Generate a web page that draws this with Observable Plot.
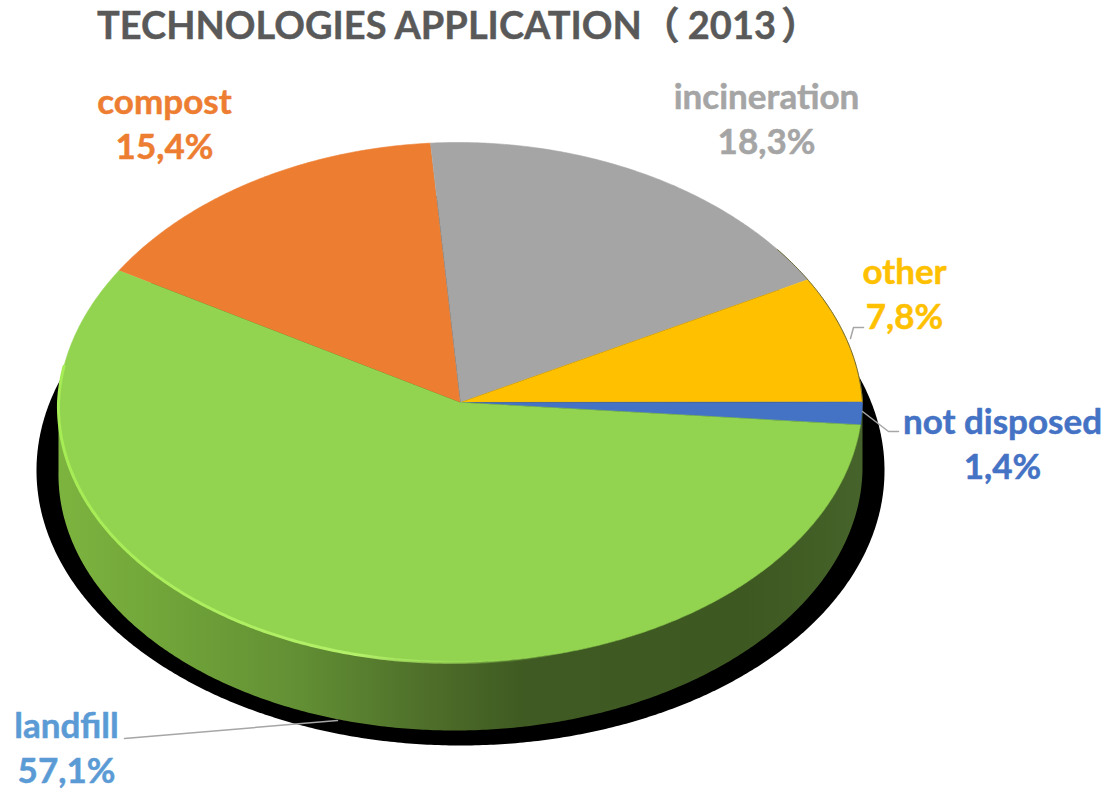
<!DOCTYPE html>
<html><head><meta charset="utf-8">
<script src="https://cdn.jsdelivr.net/npm/d3@7"></script>
<script src="https://cdn.jsdelivr.net/npm/@observablehq/plot@0.6"></script>
<style>
html,body{margin:0;padding:0;background:#fff}
#title{height:58px;box-sizing:border-box;padding:1px 0 0 97px;font:bold 38px Lato,"Noto Sans CJK SC",sans-serif;color:#595959;white-space:nowrap;line-height:46px;-webkit-text-stroke:.4px #595959}
#title .y{margin:0 5px 0 8px}
svg{display:block}
</style></head><body>
<div id="title" lang="zh-CN">TECHNOLOGIES APPLICATION（<span class="y">2013</span>）</div>
<div id="chart"></div>
<script>
// Data, clockwise from the top-left edge of the pie
const names = ["compost", "incineration", "other", "not disposed", "landfill"];
const values = [15.4, 18.3, 7.8, 1.4, 57.1];
const colors = ["#ED7D31", "#A5A5A5", "#FFC000", "#4472C4", "#92D450"];
const labelColors = ["#ED7D31", "#A5A5A5", "#FFC000", "#4472C4", "#5B9BD5"];

// Layout of the tilted pie (in picture units)
const cx = 460, cy = 402, rx = 402, ry = 260, depth = 68;
const startDeg = 149.5;              // math angle where compost begins, sweeping clockwise
const labelX = [164, 766, 904, 1002, 66];
const labelY = [81, 76, 251, 401, 705];
const leaders = [
  {id: "other", x: 850, y: 338}, {id: "other", x: 853, y: 327}, {id: "other", x: 863, y: 327},
  {id: "nd", x: 862, y: 411}, {id: "nd", x: 888, y: 431}, {id: "nd", x: 898, y: 431},
  {id: "lf", x: 337, y: 720}, {id: "lf", x: 124, y: 738}
];

const pt = (deg, dy = 0) => {
  const a = deg * Math.PI / 180, s = Math.sin(a);
  const squeeze = 1 - 0.035 * Math.max(0, s);    // slight perspective at the back of the pie
  const shift = -6 * Math.max(0, -s) - 2.5 * Math.max(0, s);   // and a slight drift
  return {x: cx + shift + rx * squeeze * Math.cos(a), y: cy + dy - ry * s};
};
const arc = (from, to) => {
  const n = Math.max(2, Math.ceil(Math.abs(to - from) * 2)), out = [];
  for (let i = 0; i <= n; i++) out.push(from + (to - from) * i / n);
  return out;
};
// slices
let acc = 0;
const slices = [];
values.forEach((v, i) => {
  const a0 = startDeg - acc * 3.6, a1 = startDeg - (acc + v) * 3.6;
  slices.push({name: names[i], x: cx, y: cy});
  arc(a0, a1).forEach(d => slices.push({name: names[i], ...pt(d)}));
  acc += v;
});
const wall = [...arc(180, 360).map(d => pt(d)), ...arc(360, 180).map(d => pt(d, depth))];
const rim = arc(172, 285).map(d => pt(d));
const shadowPts = arc(0, 360).map(d => {
  const a = d * Math.PI / 180;
  return {x: 460 + 424 * Math.cos(a), y: 470 - 275 * Math.sin(a)};
});
const rightEdge = arc(36, 0).map(d => pt(d));
const labels = names.map((n, i) => ({
  text: `${n}\n${String(values[i]).replace(".", ",")}%`, x: labelX[i], y: labelY[i], c: labelColors[i]
}));

const defs = () => {
  const g = d3.create("svg:defs");
  const lg = (id, stops) => {
    const l = g.append("linearGradient").attr("id", id);
    stops.forEach(([o, c, a = 1]) => l.append("stop").attr("offset", o).attr("stop-color", c).attr("stop-opacity", a));
  };
  lg("wall", [[0, "#7DB43F"], [0.12, "#72A63A"], [0.3, "#628F34"], [0.45, "#4F702A"], [0.58, "#3F5A22"], [0.85, "#3D5820"], [1, "#45632A"]]);
  lg("rim", [[0, "#A6EC55"], [0.6, "#B4F06A"], [1, "#92D450", 0]]);
  return g.node();
};

const plot = Plot.plot({
  width: 1106, height: 731,
  margin: 0,
  x: {domain: [0, 1106], axis: null},
  y: {domain: [789, 58], axis: null},
  marks: [
    defs,
    Plot.line(shadowPts, {x: "x", y: "y", fill: "#000", stroke: "none"}),
    Plot.line(wall, {x: "x", y: "y", fill: "url(#wall)", stroke: "none"}),
    Plot.line(slices, {x: "x", y: "y", z: "name", fill: "name", stroke: "name", strokeWidth: 0.6}),
    Plot.line(rightEdge, {x: "x", y: "y", stroke: "#6e6a3a", strokeWidth: 1}),
    Plot.line(rim, {x: "x", y: "y", stroke: "url(#rim)", strokeWidth: 3}),
    Plot.line(leaders, {x: "x", y: "y", z: "id", stroke: "#A6A6A6", strokeWidth: 1.5}),
    Plot.text(labels, {x: "x", y: "y", text: "text", fill: "c", stroke: "c", strokeWidth: 0.5, fontSize: 35, fontWeight: "bold", fontFamily: "Lato, sans-serif", lineHeight: 1.3, lineAnchor: "top", textAnchor: "middle"})
  ],
  color: {domain: names, range: colors}
});
document.getElementById("chart").append(plot);
</script>
</body></html>
